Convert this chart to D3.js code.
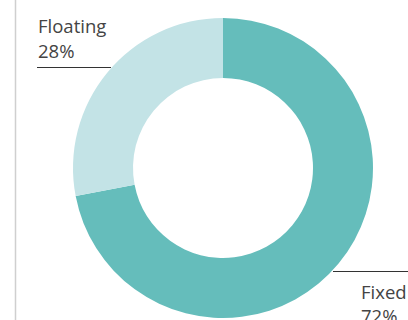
<!DOCTYPE html>
<html>
<head>
<meta charset="utf-8">
<script src="https://cdn.jsdelivr.net/npm/d3@7"></script>
<style>
  html, body { margin: 0; padding: 0; background: #fff; }
  svg { display: block; }
  text { font-family: "Open Sans", "Noto Sans", sans-serif; }
</style>
</head>
<body>
<svg id="chart" width="408" height="320"></svg>
<script>
const categories = ["Fixed", "Floating"];
const values = [72, 28];
const labels = ["72%", "28%"];
const colors = ["#65bdbb", "#c3e3e6"];

const svg = d3.select("#chart");
const W = 408, H = 320;
const cx = 223, cy = 168, R = 150, r = 90;

// left rule
svg.append("line").attr("x1", 15.5).attr("x2", 15.5).attr("y1", 0).attr("y2", H)
  .attr("stroke", "#cfcfcf").attr("stroke-width", 1.5);

const pie = d3.pie().sort(null).value(d => d)(values);
const arc = d3.arc().innerRadius(r).outerRadius(R);
const color = d3.scaleOrdinal().domain(categories).range(colors);

const g = svg.append("g").attr("transform", `translate(${cx},${cy})`);
g.selectAll("path").data(pie).join("path")
  .attr("d", arc)
  .attr("fill", (d, i) => color(categories[i]));

// labels
const labelSpec = [
  { x: 361, y1: 299, y2: 323, lx1: 333, lx2: 408, ly: 271.5 },
  { x: 38, y1: 33, y2: 57.5, lx1: 37, lx2: 111, ly: 67.5 }
];
categories.forEach((c, i) => {
  const s = labelSpec[i];
  svg.append("line").attr("x1", s.lx1).attr("x2", s.lx2).attr("y1", s.ly).attr("y2", s.ly)
    .attr("stroke", "#333").attr("stroke-width", 1);
  const t = svg.append("text").attr("fill", "#444").attr("font-size", 18.5);
  t.append("tspan").attr("x", s.x).attr("y", s.y1).text(c);
  t.append("tspan").attr("x", s.x).attr("y", s.y2).text(labels[i]);
});
</script>
</body>
</html>
